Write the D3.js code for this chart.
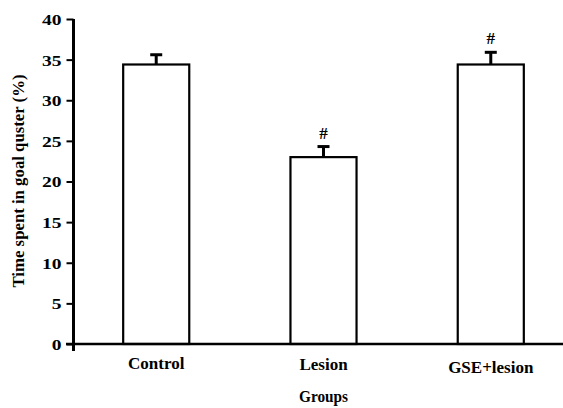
<!DOCTYPE html>
<html><head><meta charset="utf-8">
<script src="https://cdn.jsdelivr.net/npm/d3@7"></script>
<style>html,body{margin:0;padding:0;background:#fff;}svg{display:block;}</style>
</head><body>
<script>
const categories = ["Control", "Lesion", "GSE+lesion"];
const values = [34.4, 23.0, 34.4];
const errors = [1.2, 1.3, 1.5];
const significance = ["", "#", "#"];
const yTicks = [0, 5, 10, 15, 20, 25, 30, 35, 40];
const yLabel = "Time spent in goal quster (%)";
const xLabel = "Groups";

const W = 563, H = 408;
const svg = d3.select("body").append("svg").attr("width", W).attr("height", H);
const font = "'Liberation Serif','Times New Roman',serif";

const y = d3.scaleLinear().domain([0, 40]).range([344, 19]);
const x = d3.scaleBand().domain(categories).range([73, 574]).paddingInner(0.605).paddingOuter(0.3);

// y axis
const yAxis = d3.axisLeft(y).tickValues(yTicks).tickSize(7).tickPadding(5);
const gy = svg.append("g").attr("transform", "translate(73.5,0)").call(yAxis);
gy.select(".domain").remove();
gy.selectAll(".tick line").attr("stroke", "#000").attr("stroke-width", 2);
gy.selectAll(".tick text").attr("font-family", font).attr("font-size", 15).attr("font-weight", "bold")
  .attr("fill", "#000").attr("dy", "0.36em")
  .each(function(){ const t=d3.select(this); const w=this.getComputedTextLength(); t.attr("textLength", w*1.3).attr("lengthAdjust","spacingAndGlyphs"); });
svg.append("line").attr("x1", 73.5).attr("x2", 73.5).attr("y1", y(40)).attr("y2", 351)
  .attr("stroke", "#000").attr("stroke-width", 3);

// bars
const bars = svg.append("g");
categories.forEach((c, i) => {
  bars.append("rect").attr("x", x(c)).attr("y", y(values[i]))
    .attr("width", x.bandwidth()).attr("height", y(0) - y(values[i]))
    .attr("fill", "#fff").attr("stroke", "#000").attr("stroke-width", 2.2);
  const cx = x(c) + x.bandwidth() / 2;
  const top = y(values[i] + errors[i]);
  bars.append("line").attr("x1", cx).attr("x2", cx).attr("y1", y(values[i])).attr("y2", top)
    .attr("stroke", "#000").attr("stroke-width", 3);
  bars.append("line").attr("x1", cx - 6).attr("x2", cx + 6).attr("y1", top).attr("y2", top)
    .attr("stroke", "#000").attr("stroke-width", 3);
  if (significance[i]) {
    bars.append("text").attr("x", cx).attr("y", top - 8).attr("text-anchor", "middle")
      .attr("font-family", font).attr("font-size", 17).attr("font-weight", "bold").text(significance[i]);
  }
});

// x axis line
svg.append("line").attr("x1", 66).attr("x2", W).attr("y1", y(0)).attr("y2", y(0))
  .attr("stroke", "#000").attr("stroke-width", 2.5);

// category labels
const catY = [369, 370, 373];
categories.forEach((c, i) => {
  svg.append("text").attr("x", x(c) + x.bandwidth() / 2).attr("y", catY[i])
    .attr("text-anchor", "middle").attr("font-family", font).attr("font-size", 17).attr("font-weight", "bold").text(c);
});

// axis titles
svg.append("text").attr("x", x("Lesion") + x.bandwidth() / 2).attr("y", 402)
  .attr("text-anchor", "middle").attr("font-family", font).attr("font-size", 17).attr("font-weight", "bold")
  .attr("textLength", 49).attr("lengthAdjust", "spacingAndGlyphs").text(xLabel);

svg.append("text").attr("transform", "translate(24,181) rotate(-90)")
  .attr("text-anchor", "middle").attr("font-family", font).attr("font-size", 16).attr("font-weight", "bold")
  .attr("textLength", 213).attr("lengthAdjust", "spacingAndGlyphs").text(yLabel);
</script>
</body></html>
